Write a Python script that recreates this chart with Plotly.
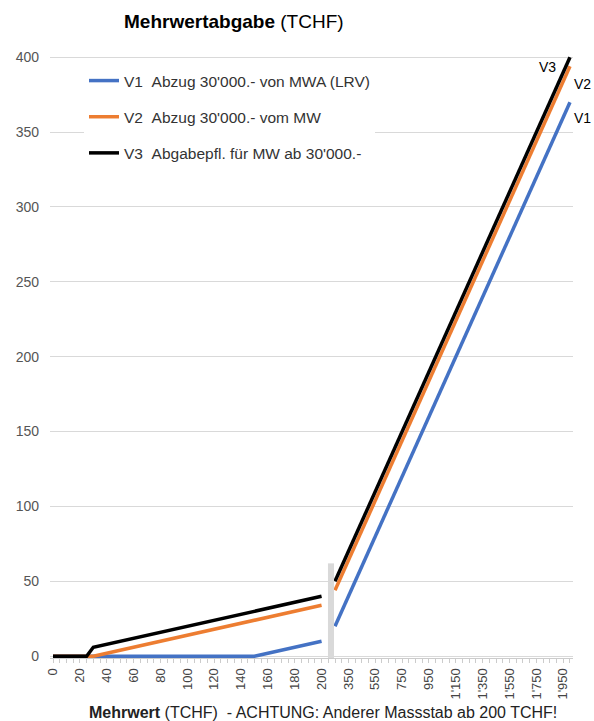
import plotly.graph_objects as go

# Mehrwert categories (TCHF): fine scale up to 200, coarse scale from 250
mw_low = ["0", "5", "10", "15", "20", "25", "30", "35", "40", "45", "50", "55", "60", "65", "70",
          "75", "80", "85", "90", "95", "100", "105", "110", "115", "120", "125", "130", "135",
          "140", "145", "150", "155", "160", "165", "170", "175", "180", "185", "190", "195", "200"]
gap_cat = ["\u2009"]
mw_high = ["250", "300", "350", "400", "450", "500", "550", "600", "650", "700", "750", "800",
           "850", "900", "950", "1'000", "1'050", "1'100", "1'150", "1'200", "1'250", "1'300",
           "1'350", "1'400", "1'450", "1'500", "1'550", "1'600", "1'650", "1'700", "1'750",
           "1'800", "1'850", "1'900", "1'950", "2'000"]

v1_low = [0, 0, 0, 0, 0, 0, 0, 0, 0, 0, 0, 0, 0, 0, 0, 0, 0, 0, 0, 0, 0, 0, 0, 0, 0, 0, 0, 0, 0, 0,
          0, 1, 2, 3, 4, 5, 6, 7, 8, 9, 10]
v2_low = [0, 0, 0, 0, 0, 0, 0, 1, 2, 3, 4, 5, 6, 7, 8, 9, 10, 11, 12, 13, 14, 15, 16, 17, 18, 19,
          20, 21, 22, 23, 24, 25, 26, 27, 28, 29, 30, 31, 32, 33, 34]
v3_low = [0, 0, 0, 0, 0, 0, 6, 7, 8, 9, 10, 11, 12, 13, 14, 15, 16, 17, 18, 19, 20, 21, 22, 23, 24,
          25, 26, 27, 28, 29, 30, 31, 32, 33, 34, 35, 36, 37, 38, 39, 40]

v1_high = [20, 30, 40, 50, 60, 70, 80, 90, 100, 110, 120, 130, 140, 150, 160, 170, 180, 190, 200,
           210, 220, 230, 240, 250, 260, 270, 280, 290, 300, 310, 320, 330, 340, 350, 360, 370]
v2_high = [44, 54, 64, 74, 84, 94, 104, 114, 124, 134, 144, 154, 164, 174, 184, 194, 204, 214, 224,
           234, 244, 254, 264, 274, 284, 294, 304, 314, 324, 334, 344, 354, 364, 374, 384, 394]
v3_high = [50, 60, 70, 80, 90, 100, 110, 120, 130, 140, 150, 160, 170, 180, 190, 200, 210, 220, 230,
           240, 250, 260, 270, 280, 290, 300, 310, 320, 330, 340, 350, 360, 370, 380, 390, 400]

tick_labels = ["0", "20", "40", "60", "80", "100", "120", "140", "160", "180", "200",
               "350", "550", "750", "950", "1'150", "1'350", "1'550", "1'750", "1'950"]

series_names = ["V1\u00a0\u00a0Abzug 30'000.- von MWA (LRV)",
                "V2\u00a0\u00a0Abzug 30'000.- vom MW",
                "V3\u00a0\u00a0Abgabepfl. für MW ab 30'000.-"]
short_names = ["V1", "V2", "V3"]
colors = ["#4472C4", "#ED7D31", "#000000"]

categories = mw_low + gap_cat + mw_high
series = [v1_low + [None] + v1_high,
          v2_low + [None] + v2_high,
          v3_low + [None] + v3_high]

FONT = "Arial, Liberation Sans, sans-serif"

fig = go.Figure()
for i, vals in enumerate(series):
    fig.add_trace(go.Scatter(
        x=categories, y=vals, mode="lines", name=series_names[i],
        line=dict(color=colors[i], width=3.5), connectgaps=False,
        legendgroup=short_names[i],
    ))

# gray break marker at the gap category
gap_idx = categories.index(gap_cat[0])
fig.add_shape(type="rect", xref="x", yref="y",
              x0=gap_idx - 0.05, x1=gap_idx + 0.85, y0=-3, y1=62,
              fillcolor="#d9d9d9", line=dict(width=0), layer="above")

# end labels
last = categories[-1]
ends = [v1_high[-1], v2_high[-1], v3_high[-1]]
offsets = [(13, -16), (13, -18), (-22, -10)]
for i in range(3):
    fig.add_annotation(x=last, y=ends[i], text=short_names[i], showarrow=False,
                       xshift=offsets[i][0], yshift=offsets[i][1],
                       font=dict(size=14, color="#000", family=FONT))

# plot area: left 50, right 573, top 55, bottom 658 (pixels)
PL, PR, PT, PB = 50, 573, 55, 658
def px(xp):
    return (xp - PL) / (PR - PL)
def py(yp):
    return (PB - yp) / (PB - PT)

# title
fig.add_annotation(xref="paper", yref="paper", x=px(234), y=py(22),
                   text="<b>Mehrwertabgabe</b> (TCHF)", showarrow=False,
                   xanchor="center", yanchor="middle",
                   font=dict(size=19, color="#000", family=FONT))
# x axis title
fig.add_annotation(xref="paper", yref="paper", x=px(323), y=py(712),
                   text="<b>Mehrwert</b> (TCHF)\u00a0\u00a0- ACHTUNG: Anderer Massstab ab 200 TCHF!",
                   showarrow=False, xanchor="center", yanchor="middle",
                   font=dict(size=16, color="#222", family=FONT))

ticktext = [c if c in tick_labels else "" for c in categories]

fig.update_layout(
    width=594, height=721,
    margin=dict(l=PL, r=594 - PR, t=PT, b=721 - PB, autoexpand=False),
    paper_bgcolor="white", plot_bgcolor="white",
    font=dict(family=FONT, color="#444"),
    showlegend=True,
    legend=dict(x=px(84), y=py(64), xanchor="left", yanchor="top",
                bgcolor="white", font=dict(size=15.5, color="#333", family=FONT),
                tracegroupgap=13, itemwidth=30),
    xaxis=dict(type="category", categoryorder="array", categoryarray=categories,
               range=[-0.45, len(categories) - 1 + 0.45],
               tickmode="array", tickvals=categories, ticktext=ticktext,
               tickangle=-90, ticks="outside", ticklen=4, tickcolor="#cccccc",
               tickfont=dict(size=13, color="#444", family=FONT),
               showgrid=False, showline=True, linecolor="#cccccc", linewidth=1,
               zeroline=False),
    yaxis=dict(range=[-1.2, 401.5], tickvals=[0, 50, 100, 150, 200, 250, 300, 350, 400],
               showgrid=True, gridcolor="#d9d9d9", gridwidth=1,
               zeroline=False, showline=False, ticks="",
               tickfont=dict(size=14, color="#555", family=FONT),
               ticklabelstandoff=10),
)

fig.write_html("out.html", config={"displayModeBar": False},
               post_script="document.body.style.margin='0';")
